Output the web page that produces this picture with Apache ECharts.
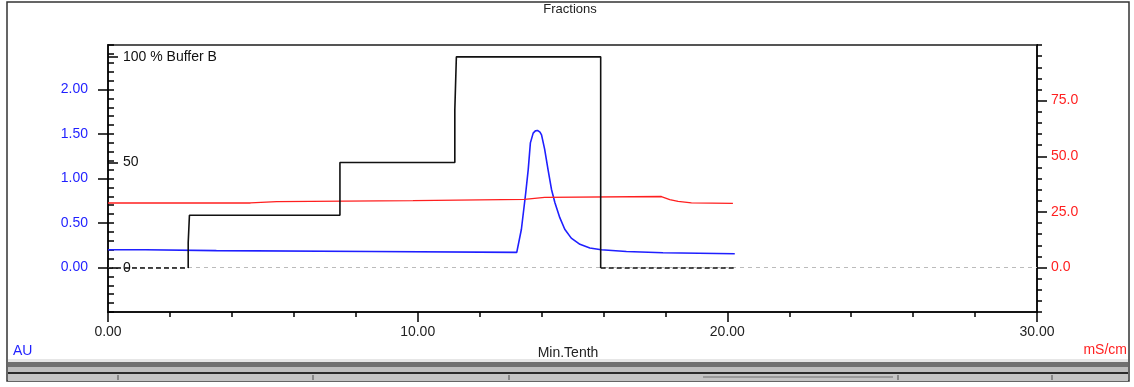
<!DOCTYPE html>
<html>
<head>
<meta charset="utf-8">
<script src="https://cdn.jsdelivr.net/npm/echarts@6/dist/echarts.min.js"></script>
<style>
html,body{margin:0;padding:0;background:#fff;}
#chart{width:1134px;height:387px;}
</style>
</head>
<body>
<div id="chart"></div>
<script>
// ---- Data ----
// UV absorbance (AU) vs time (Min.Tenth)
var uvTime = [0, 1.2, 1.25, 3.5, 3.55, 8.5, 8.55, 13.2, 13.24, 13.35, 13.49, 13.57, 13.64, 13.73, 13.8, 13.87, 13.95, 14.0, 14.1, 14.21, 14.32, 14.43, 14.59, 14.75, 14.96, 15.24, 15.56, 15.93, 16.74, 17.92, 20.24];
var uvAU   = [0.20, 0.20, 0.19, 0.19, 0.18, 0.18, 0.17, 0.17, 0.18, 0.43, 0.84, 1.10, 1.40, 1.51, 1.535, 1.54, 1.52, 1.49, 1.33, 1.10, 0.88, 0.73, 0.56, 0.43, 0.33, 0.26, 0.22, 0.20, 0.18, 0.165, 0.155];
// Conductivity (mS/cm)
var condTime = [0, 4.6, 4.65, 5.45, 5.5, 9.85, 9.9, 13.45, 13.5, 14.1, 14.15, 17.87, 18.14, 18.41, 18.84, 20.18];
var condMS   = [29.0, 29.0, 29.6, 29.6, 30.0, 30.1, 30.6, 30.6, 31.4, 31.5, 31.9, 31.9, 30.5, 29.7, 29.0, 28.8];
// Gradient (% Buffer B)
var gradTime = [0, 2.59, 2.59, 2.63, 2.63, 7.49, 7.49, 11.2, 11.2, 11.25, 11.25, 15.91, 15.91, 20.24];
var gradB    = [0, 0, 12, 12, 25, 25, 50, 50, 75, 75, 100, 100, 0, 0];
// Tick labels
var xTicks = [0, 10, 20, 30];
var auLabels = [0, 0.5, 1.0, 1.5, 2.0];
var bLabels = [0, 50, 100];
var msLabels = [0, 25, 50, 75];

// ---- Build ----
function pairs(t, v){ return t.map(function(x,i){ return [x, v[i]]; }); }
var gradPts = pairs(gradTime, gradB);
var solid = [], dashed = [];
for (var i = 0; i < gradPts.length; i++) {
  var prevZero = i > 0 && gradB[i-1] === 0 && gradB[i] === 0;
  var nextZero = i < gradPts.length-1 && gradB[i] === 0 && gradB[i+1] === 0;
  var prevNZ = i > 0 && !(gradB[i-1] === 0 && gradB[i] === 0);
  var nextNZ = i < gradPts.length-1 && !(gradB[i] === 0 && gradB[i+1] === 0);
  solid.push((prevNZ || nextNZ) ? gradPts[i] : [gradTime[i], null]);
  dashed.push((prevZero || nextZero) ? gradPts[i] : [gradTime[i], null]);
}
var auMinor = [];
for (var k = -5; k <= 25; k++) auMinor.push(k / 10);
var msMinor = [];
for (var m = -20; m <= 100; m += 5) msMinor.push(m);

var FONT = "'Liberation Sans', Arial, sans-serif";
var BLUE = '#1f1fff', RED = '#ff1f1f';

var chart = echarts.init(document.getElementById('chart'), null, {renderer:'canvas'});
chart.setOption({
  animation: false,
  backgroundColor: '#fff',
  grid: {left:108, right:97, top:45, bottom:75, show:true, borderColor:'#555', borderWidth:2, backgroundColor:'transparent'},
  xAxis: {
    type:'value', min:0, max:30, interval:10,
    axisLine:{show:true, onZero:false, lineStyle:{color:'#000', width:1.5}},
    axisTick:{show:true, length:10, lineStyle:{color:'#000', width:1.5}},
    minorTick:{show:true, splitNumber:5, length:5, lineStyle:{color:'#000', width:1.5}},
    axisLabel:{formatter:function(v){return v.toFixed(2);}, color:'#222', fontSize:14, fontFamily:FONT, margin:13},
    splitLine:{show:false}
  },
  yAxis: [
    { // AU
      type:'value', position:'left', min:-0.5, max:2.5,
      axisLine:{show:true, onZero:false, lineStyle:{color:'#000', width:1.5}},
      axisTick:{show:true, length:10, customValues:auLabels, lineStyle:{color:'#000', width:1.5}},
      axisLabel:{customValues:auLabels, formatter:function(v){return v.toFixed(2);}, color:BLUE, fontSize:14, fontFamily:FONT, margin:20},
      splitLine:{show:false}
    },
    { // AU minor ticks
      type:'value', position:'left', min:-0.5, max:2.5,
      axisLine:{show:false},
      axisTick:{show:true, inside:true, length:6, customValues:auMinor, lineStyle:{color:'#000', width:1.5}},
      axisLabel:{show:false},
      splitLine:{show:false}
    },
    { // % Buffer B
      type:'value', position:'left', min:-20.8, max:105.6,
      axisLine:{show:false},
      axisTick:{show:true, inside:true, length:10, customValues:bLabels, lineStyle:{color:'#000', width:1.5}},
      axisLabel:{show:true, inside:true, customValues:bLabels, margin:15, color:'#111', fontSize:14, fontFamily:FONT,
        formatter:function(v){ return v === 100 ? '100 % Buffer B' : String(v); }},
      splitLine:{show:false}
    },
    { // mS/cm
      type:'value', position:'right', min:-20, max:100,
      axisLine:{show:true, onZero:false, lineStyle:{color:'#000', width:1.5}},
      axisTick:{show:true, length:10, customValues:msLabels, lineStyle:{color:'#000', width:1.5}},
      axisLabel:{customValues:msLabels, formatter:function(v){return v.toFixed(1);}, color:RED, fontSize:14, fontFamily:FONT, margin:14},
      splitLine:{show:false}
    },
    { // mS/cm minor ticks
      type:'value', position:'right', min:-20, max:100,
      axisLine:{show:false},
      axisTick:{show:true, length:5, customValues:msMinor, lineStyle:{color:'#000', width:1.5}},
      axisLabel:{show:false},
      splitLine:{show:false}
    }
  ],
  series: [
    {
      name:'UV', type:'line', yAxisIndex:0, data:pairs(uvTime, uvAU), showSymbol:false, symbol:'none',
      lineStyle:{color:BLUE, width:1.6}, z:3,
      markLine:{silent:true, symbol:['none','none'], label:{show:false}, lineStyle:{color:'#bbb', type:[4,4], width:1}, data:[{yAxis:0}], z:1}
    },
    {
      name:'Cond', type:'line', yAxisIndex:3, data:pairs(condTime, condMS), showSymbol:false, symbol:'none',
      lineStyle:{color:RED, width:1.3}, z:3
    },
    {
      name:'Gradient', type:'line', yAxisIndex:2, data:solid, showSymbol:false, symbol:'none', connectNulls:false,
      lineStyle:{color:'#111', width:1.6}, z:4
    },
    {
      name:'GradientZero', type:'line', yAxisIndex:2, data:dashed, showSymbol:false, symbol:'none', connectNulls:false,
      lineStyle:{color:'#111', width:1.6, type:[5,3]}, z:4
    }
  ],
  graphic: [
    {type:'rect', shape:{x:7, y:2, width:1122, height:379}, style:{fill:'none', stroke:'#333', lineWidth:1.5}, silent:true, z:0},
    {type:'text', x:570, y:9, style:{text:'Fractions', fill:'#222', font:'13px '+FONT, textAlign:'center', textVerticalAlign:'middle'}},
    {type:'text', x:568, y:353, style:{text:'Min.Tenth', fill:'#222', font:'14px '+FONT, textAlign:'center', textVerticalAlign:'middle'}},
    {type:'text', x:13, y:351, style:{text:'AU', fill:BLUE, font:'14px '+FONT, textAlign:'left', textVerticalAlign:'middle'}},
    {type:'text', x:1127, y:350, style:{text:'mS/cm', fill:RED, font:'14px '+FONT, textAlign:'right', textVerticalAlign:'middle'}},
    {type:'rect', shape:{x:8, y:359, width:1120, height:3}, style:{fill:'#e6e6e6'}, silent:true},
    {type:'rect', shape:{x:8, y:362, width:1120, height:5}, style:{fill:'#707070'}, silent:true},
    {type:'rect', shape:{x:8, y:367, width:1120, height:5}, style:{fill:'#bdbdbd'}, silent:true},
    {type:'rect', shape:{x:8, y:372, width:1120, height:2}, style:{fill:'#2a2a2a'}, silent:true},
    {type:'rect', shape:{x:8, y:374, width:1120, height:7}, style:{fill:'#c4c4c4'}, silent:true},
    {type:'rect', shape:{x:117, y:375, width:2, height:5}, style:{fill:'#888'}, silent:true},
    {type:'rect', shape:{x:312, y:375, width:2, height:5}, style:{fill:'#888'}, silent:true},
    {type:'rect', shape:{x:508, y:375, width:2, height:5}, style:{fill:'#888'}, silent:true},
    {type:'rect', shape:{x:703, y:376, width:190, height:2}, style:{fill:'#999'}, silent:true},
    {type:'rect', shape:{x:897, y:375, width:2, height:5}, style:{fill:'#888'}, silent:true},
    {type:'rect', shape:{x:1051, y:375, width:2, height:5}, style:{fill:'#888'}, silent:true}
  ]
});
</script>
</body>
</html>
